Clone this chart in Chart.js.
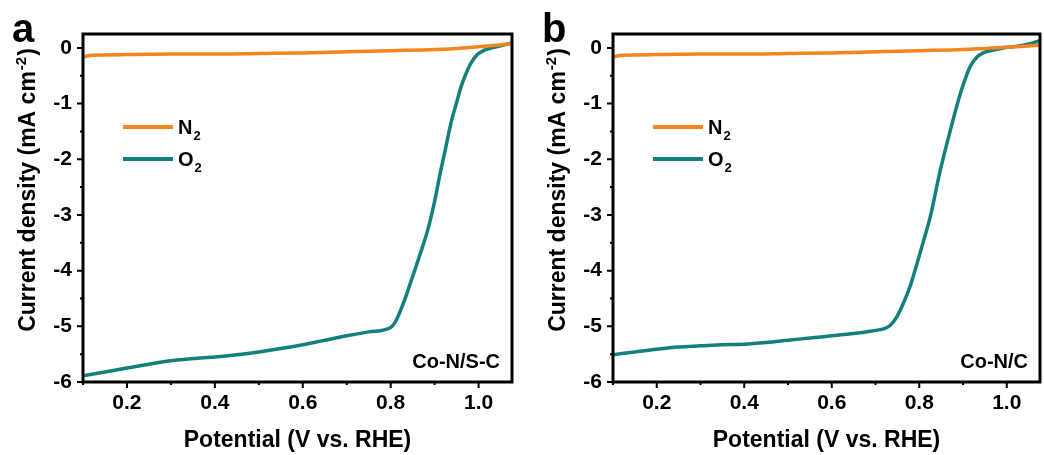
<!DOCTYPE html>
<html>
<head>
<meta charset="utf-8">
<script src="https://cdn.jsdelivr.net/npm/chart.js@4.4.1/dist/chart.umd.min.js"></script>
<style>
	html, body { margin: 0; padding: 0; background: #fff; }
	.panel { position: absolute; top: 0; }
</style>
</head>
<body>
<div class="panel" style="left:0px"><canvas id="chartA" width="522" height="455"></canvas></div>
<div class="panel" style="left:530px"><canvas id="chartB" width="514" height="455"></canvas></div>
<script>
// axis ticks
const xTicks = [0.2, 0.4, 0.6, 0.8, 1.0];
const xMinorTicks = [0.1, 0.3, 0.5, 0.7, 0.9];
const yTicks = [-6, -5, -4, -3, -2, -1, 0];
const yMinorTicks = [-5.5, -4.5, -3.5, -2.5, -1.5, -0.5];

const seriesNames = ['N2', 'O2'];
const seriesColors = ['#F5861F', '#14807B'];

// panel a: Co-N/S-C
const potentialA_N2 = [0.1, 0.12, 0.2, 0.3, 0.4, 0.5, 0.6, 0.7, 0.8, 0.9, 0.95, 1.0, 1.04, 1.076];
const currentA_N2 = [-0.16, -0.13, -0.12, -0.11, -0.11, -0.1, -0.09, -0.07, -0.05, -0.03, -0.01, 0.02, 0.05, 0.08];
const potentialA_O2 = [0.1, 0.15, 0.2, 0.25, 0.3, 0.35, 0.4, 0.45, 0.5, 0.55, 0.6, 0.65, 0.7, 0.75, 0.8, 0.81, 0.82, 0.832, 0.845, 0.865, 0.885, 0.9, 0.914, 0.925, 0.937, 0.95, 0.96, 0.972, 0.983, 0.997, 1.013, 1.03, 1.045, 1.06, 1.076];
const currentA_O2 = [-5.89, -5.82, -5.75, -5.68, -5.62, -5.58, -5.55, -5.51, -5.46, -5.4, -5.33, -5.25, -5.17, -5.1, -5.02, -4.93, -4.76, -4.52, -4.22, -3.75, -3.25, -2.75, -2.2, -1.8, -1.35, -0.98, -0.7, -0.45, -0.27, -0.12, -0.04, 0.0, 0.03, 0.06, 0.09];

// panel b: Co-N/C
const potentialB_N2 = [0.1, 0.12, 0.2, 0.3, 0.4, 0.5, 0.6, 0.7, 0.8, 0.9, 0.95, 1.0, 1.04, 1.076];
const currentB_N2 = [-0.16, -0.13, -0.12, -0.11, -0.11, -0.1, -0.09, -0.07, -0.05, -0.03, -0.01, 0.01, 0.03, 0.05];
const potentialB_O2 = [0.1, 0.15, 0.2, 0.25, 0.3, 0.35, 0.4, 0.45, 0.5, 0.55, 0.6, 0.65, 0.688, 0.71, 0.72, 0.734, 0.748, 0.763, 0.78, 0.795, 0.81, 0.825, 0.848, 0.871, 0.894, 0.905, 0.916, 0.93, 0.946, 0.97, 0.992, 1.015, 1.037, 1.06, 1.076];
const currentB_O2 = [-5.51, -5.46, -5.41, -5.37, -5.35, -5.33, -5.32, -5.29, -5.25, -5.21, -5.17, -5.13, -5.09, -5.06, -5.04, -4.98, -4.84, -4.6, -4.26, -3.87, -3.46, -3.04, -2.2, -1.48, -0.82, -0.56, -0.34, -0.18, -0.09, -0.04, 0.0, 0.02, 0.05, 0.09, 0.13];

const FONT = '"Liberation Sans", Arial, sans-serif';

function toPoints(xs, ys) {
	return xs.map((x, i) => ({ x: x, y: ys[i] }));
}

function drawSub(ctx, x, y, main, sub, size) {
	ctx.font = 'bold ' + size + 'px ' + FONT;
	ctx.fillText(main, x, y);
	const w = ctx.measureText(main).width;
	ctx.font = 'bold ' + Math.round(size * 0.65) + 'px ' + FONT;
	ctx.fillText(sub, x + w + 1, y + size * 0.3);
}

const decorPlugin = {
	id: 'decor',
	afterDraw(chart, args, opts) {
		const ctx = chart.ctx;
		const area = chart.chartArea;
		const xs = chart.scales.x;
		const ys = chart.scales.y;

		ctx.save();
		ctx.fillStyle = '#000';
		ctx.strokeStyle = '#000';

		// frame
		ctx.lineWidth = 3;
		ctx.strokeRect(area.left, area.top, area.right - area.left, area.bottom - area.top);

		// tick marks, outward
		ctx.lineWidth = 2;
		ctx.beginPath();
		xTicks.forEach((v) => { const p = xs.getPixelForValue(v); ctx.moveTo(p, area.bottom); ctx.lineTo(p, area.bottom + 6); });
		xMinorTicks.forEach((v) => { const p = xs.getPixelForValue(v); ctx.moveTo(p, area.bottom); ctx.lineTo(p, area.bottom + 3); });
		yTicks.forEach((v) => { const p = ys.getPixelForValue(v); ctx.moveTo(area.left, p); ctx.lineTo(area.left - 6, p); });
		yMinorTicks.forEach((v) => { const p = ys.getPixelForValue(v); ctx.moveTo(area.left, p); ctx.lineTo(area.left - 3, p); });
		ctx.stroke();

		// panel letter
		ctx.font = 'bold 40px ' + FONT;
		ctx.textAlign = 'left';
		ctx.textBaseline = 'alphabetic';
		ctx.fillText(opts.letter, 12, 42);

		// x title
		ctx.font = 'bold 23px ' + FONT;
		ctx.textAlign = 'center';
		ctx.fillText('Potential (V vs. RHE)', (area.left + area.right) / 2, 447);

		// y title with superscript
		ctx.translate(35, 190);
		ctx.rotate(-Math.PI / 2);
		ctx.textAlign = 'left';
		const big = 'bold 23px ' + FONT;
		const small = 'bold 15px ' + FONT;
		const partA = 'Current density (mA cm';
		ctx.font = big;
		const wA = ctx.measureText(partA).width;
		const wC = ctx.measureText(')').width;
		ctx.font = small;
		const wB = ctx.measureText('-2').width;
		let x0 = -(wA + wB + wC + 2) / 2;
		ctx.font = big;
		ctx.fillText(partA, x0, 0);
		ctx.font = small;
		ctx.fillText('-2', x0 + wA + 1, -9);
		ctx.font = big;
		ctx.fillText(')', x0 + wA + wB + 2, 0);
		ctx.setTransform(1, 0, 0, 1, 0, 0);

		// legend
		const legendY = [127, 159];
		chart.data.datasets.forEach((ds, i) => {
			ctx.strokeStyle = ds.borderColor;
			ctx.lineWidth = 4;
			ctx.beginPath();
			ctx.moveTo(area.left + 40, legendY[i]);
			ctx.lineTo(area.left + 90, legendY[i]);
			ctx.stroke();
			ctx.fillStyle = '#000';
			ctx.textAlign = 'left';
			drawSub(ctx, area.left + 95, legendY[i] + 7, ds.label.charAt(0), ds.label.slice(1), 20);
		});

		// sample name
		ctx.font = 'bold 20px ' + FONT;
		ctx.textAlign = 'right';
		ctx.fillStyle = '#000';
		ctx.fillText(opts.sample, area.right - 12, 368);
		ctx.restore();
	}
};

function makePanel(canvasId, letter, sample, rightPad, seriesX, seriesY) {
	const datasets = seriesNames.map((name, i) => ({
		label: name,
		data: toPoints(seriesX[i], seriesY[i]),
		borderColor: seriesColors[i],
		backgroundColor: seriesColors[i],
		borderWidth: 3.5,
		pointRadius: 0,
		cubicInterpolationMode: 'monotone',
		fill: false
	}));

	return new Chart(document.getElementById(canvasId).getContext('2d'), {
		type: 'line',
		data: { datasets: datasets },
		plugins: [decorPlugin],
		options: {
			responsive: false,
			animation: false,
			devicePixelRatio: 1,
			layout: { padding: { top: 34, right: rightPad, left: 0, bottom: 0 } },
			plugins: {
				legend: { display: false },
				tooltip: { enabled: false },
				decor: { letter: letter, sample: sample }
			},
			scales: {
				x: {
					type: 'linear',
					min: 0.1,
					max: 1.076,
					afterBuildTicks: (scale) => { scale.ticks = xTicks.map((v) => ({ value: v })); },
					afterFit: (scale) => { scale.height = 73; },
					grid: { display: false, drawTicks: false },
					border: { display: false },
					ticks: {
						padding: 9,
						color: '#000',
						maxRotation: 0,
						font: { family: FONT, weight: 'bold', size: 21 },
						callback: (v) => Number(v).toFixed(1)
					}
				},
				y: {
					type: 'linear',
					min: -6,
					max: 0.25,
					afterBuildTicks: (scale) => { scale.ticks = yTicks.map((v) => ({ value: v })); },
					afterFit: (scale) => { scale.width = 83; },
					grid: { display: false, drawTicks: false },
					border: { display: false },
					ticks: {
						padding: 11,
						color: '#000',
						font: { family: FONT, weight: 'bold', size: 21 },
						callback: (v) => String(v)
					}
				}
			}
		}
	});
}

makePanel('chartA', 'a', 'Co-N/S-C', 10, [potentialA_N2, potentialA_O2], [currentA_N2, currentA_O2]);
makePanel('chartB', 'b', 'Co-N/C', 4, [potentialB_N2, potentialB_O2], [currentB_N2, currentB_O2]);
</script>
</body>
</html>
